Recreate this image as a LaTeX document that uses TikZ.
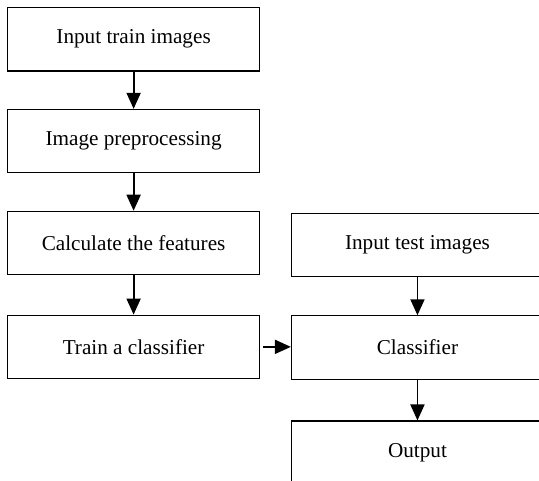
\documentclass[tikz,border=0pt]{standalone}
\usepackage{fontspec}
\setmainfont{Liberation Serif}
\usepackage{tikz}
\usetikzlibrary{arrows.meta, positioning}

\begin{document}
\begin{tikzpicture}[
    node distance=28pt and 23pt,
    box/.style={draw, rectangle, align=center, line width=0.9pt, minimum width=189pt, minimum height=47.5pt, inner sep=0pt, font=\fontsize{15.9}{19}\selectfont},
    flow_arrow/.style={line width=1.4pt, -{Triangle[length=12pt, width=10.5pt]}}
]

\useasboundingbox (0,0) rectangle (404.25pt,-360.75pt);

% Training
\node[box, anchor=north west] (train) at (5.25pt,-5.25pt) {Input train images};
\node[box, below=of train] (prep) {Image preprocessing};
\node[box, below=of prep] (feat) {Calculate the features};
\node[box, below=29.5pt of feat] (trainclf) {Train a classifier};

% Testing
\node[box, right=of feat, yshift=-1.5pt] (test) {Input test images};
\node[box, below=28.5pt of test] (clf) {Classifier};
\node[box, below=30.5pt of clf] (out) {Output};

\draw[flow_arrow] (train) -- (prep);
\draw[flow_arrow] (prep) -- (feat);
\draw[flow_arrow] (feat) -- (trainclf);
\draw[flow_arrow] ([xshift=2.25pt]trainclf.east) -- (clf.west |- trainclf.east);
\draw[flow_arrow] (test) -- (clf);
\draw[flow_arrow] (clf) -- (out);

\end{tikzpicture}
\end{document}
